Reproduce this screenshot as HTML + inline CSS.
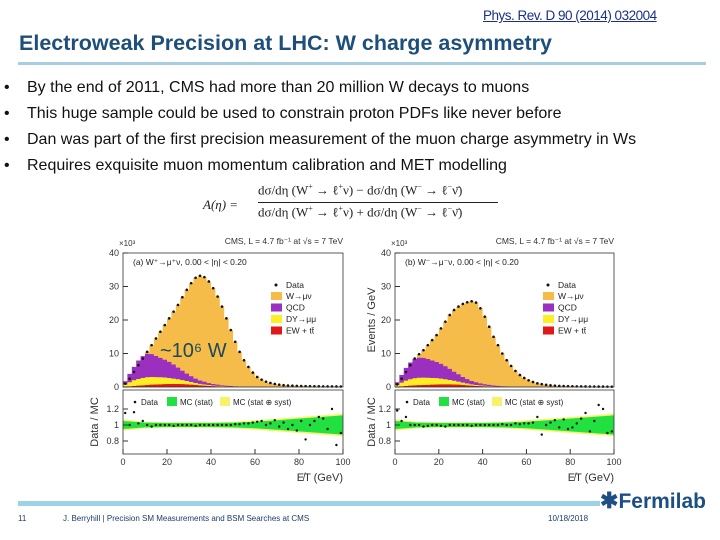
<!DOCTYPE html>
<html><head><meta charset="utf-8"><style>
body{margin:0;width:720px;height:540px;background:#fff;position:relative;overflow:hidden;font-family:"Liberation Sans",sans-serif}
.abs{position:absolute;white-space:nowrap}
.bul{left:4px;font-size:16px;color:#111}
.bul span{position:absolute;left:23px}
</style></head><body>
<div class="abs" style="left:483px;top:8px;font-size:13.5px;color:#1a2f8a;text-decoration:underline;letter-spacing:-0.5px">Phys. Rev. D 90 (2014) 032004</div>
<div class="abs" style="left:19px;top:31px;font-size:21.5px;font-weight:bold;color:#1d4f7a">Electroweak Precision at LHC: W charge asymmetry</div>
<div class="abs" style="left:18px;top:62px;width:688px;height:3px;background:#a9cde0"></div>
<div class="abs bul" style="top:79px">•<span>By the end of 2011, CMS had more than 20 million W decays to muons</span></div>
<div class="abs bul" style="top:105px">•<span>This huge sample could be used to constrain proton PDFs like never before</span></div>
<div class="abs bul" style="top:131px">•<span>Dan was part of the first precision measurement of the muon charge asymmetry in Ws</span></div>
<div class="abs bul" style="top:157px">•<span>Requires exquisite muon momentum calibration and MET modelling</span></div>
<div class="abs" style="left:203px;top:182px;font-family:'Liberation Serif',serif;font-size:13px;color:#222">
<div style="position:absolute;left:0;top:15px;font-style:italic">A(η) =</div>
<div style="position:absolute;left:55px;top:0">dσ/dη (W<sup style="font-size:8px">+</sup> → ℓ<sup style="font-size:8px">+</sup>ν) − dσ/dη (W<sup style="font-size:8px">−</sup> → ℓ<sup style="font-size:8px">−</sup>ν̄)</div>
<div style="position:absolute;left:55px;top:20px;width:240px;border-top:1px solid #222"></div>
<div style="position:absolute;left:55px;top:22px">dσ/dη (W<sup style="font-size:8px">+</sup> → ℓ<sup style="font-size:8px">+</sup>ν) + dσ/dη (W<sup style="font-size:8px">−</sup> → ℓ<sup style="font-size:8px">−</sup>ν̄)</div>
</div>
<svg id="plots" width="720" height="540" style="position:absolute;left:0;top:0" font-family="Liberation Sans, sans-serif"></svg>
<div class="abs" style="left:18px;top:501px;width:582px;height:5px;background:#9dd3e8"></div>
<div class="abs" style="left:600px;top:488px;font-size:21px;font-weight:bold;color:#1c4f83"><span style="font-size:22px">✱</span>Fermilab</div>
<div class="abs" style="left:18px;top:514px;font-size:8px;color:#1c3d6b">11</div>
<div class="abs" style="left:63px;top:514px;font-size:8px;color:#1c3d6b">J. Berryhill | Precision SM Measurements and BSM Searches at CMS</div>
<div class="abs" style="left:548px;top:514px;font-size:8px;color:#1c3d6b">10/18/2018</div>
<script>
const binCenters=[1,3,5,7,9,11,13,15,17,19,21,23,25,27,29,31,33,35,37,39,41,43,45,47,49,51,53,55,57,59,61,63,65,67,69,71,73,75,77,79,81,83,85,87,89,91,93,95,97,99];
const totalA=[1,2.5,4.5,6.5,8.5,10.5,12.5,14.5,16.5,18.5,20.5,22.5,24.5,26.8,29,31,32.6,33.2,32.8,31.5,29.5,27,24,20.5,17,13.5,10.5,8,6,4.3,3,2.2,1.6,1.2,0.9,0.7,0.55,0.45,0.38,0.32,0.28,0.26,0.24,0.22,0.2,0.19,0.18,0.17,0.16,0.15];
const qcdA=[1,2.5,4,5.5,6.5,7,6.8,6.3,5.8,5.3,4.8,4.2,3.5,2.8,2.2,1.7,1.3,1,0.8,0.6,0.45,0.35,0.25,0.2,0.15,0.1,0.08,0.06,0.05,0.04,0.03,0.02,0.02,0.02,0.01,0.01,0.01,0.01,0.01,0.01,0,0,0,0,0,0,0,0,0,0];
const dyA=[0.6,1.2,1.7,2,2.2,2.3,2.3,2.2,2.1,2,1.8,1.6,1.4,1.2,1,0.8,0.6,0.45,0.35,0.25,0.2,0.15,0.1,0.08,0.05,0.04,0.03,0.02,0.02,0.01,0,0,0,0,0,0,0,0,0,0,0,0,0,0,0,0,0,0,0,0];
const ewA=[0.1,0.2,0.3,0.4,0.5,0.6,0.7,0.75,0.8,0.85,0.9,0.9,0.9,0.85,0.8,0.7,0.6,0.5,0.4,0.3,0.25,0.2,0.15,0.1,0.08,0.06,0.04,0.03,0.02,0.01,0,0,0,0,0,0,0,0,0,0,0,0,0,0,0,0,0,0,0,0];
const totalB=[0.8,2.5,4.5,6.5,8.5,9.8,11,12.5,14,15.5,17.5,19.5,21.5,23,24,24.8,25.3,25.6,25.2,23.5,21,18,15,12.5,10,8,6.3,4.8,3.6,2.7,2,1.5,1.1,0.85,0.65,0.5,0.4,0.33,0.28,0.24,0.21,0.19,0.17,0.16,0.15,0.14,0.13,0.12,0.11,0.1];
const qcdB=[0.8,2.3,3.8,5,5.8,6,5.9,5.6,5.2,4.8,4.4,3.9,3.3,2.7,2.2,1.7,1.3,1,0.8,0.6,0.45,0.35,0.25,0.2,0.15,0.1,0.08,0.06,0.05,0.04,0.03,0.02,0.02,0.01,0.01,0,0,0,0,0,0,0,0,0,0,0,0,0,0,0];
const dyB=[0.5,1.1,1.6,1.9,2.1,2.2,2.2,2.1,2,1.9,1.7,1.5,1.3,1.1,0.9,0.7,0.55,0.4,0.3,0.22,0.16,0.12,0.08,0.06,0.04,0.03,0.02,0.01,0,0,0,0,0,0,0,0,0,0,0,0,0,0,0,0,0,0,0,0,0,0];
const ewB=[0.1,0.2,0.3,0.4,0.5,0.55,0.6,0.65,0.7,0.75,0.8,0.8,0.8,0.75,0.7,0.6,0.5,0.4,0.3,0.25,0.2,0.15,0.1,0.08,0.05,0.04,0.03,0.02,0.01,0,0,0,0,0,0,0,0,0,0,0,0,0,0,0,0,0,0,0,0,0];
const ratioA=[1.15,1.0,1.16,1.02,1.05,1.0,0.98,1.0,1.0,1.0,1.0,0.99,1.0,1.0,1.0,1.0,0.99,1.0,1.0,1.0,1.0,1.0,1.0,1.0,1.0,1.01,1.01,1.02,1.02,1.03,1.04,1.05,1.0,1.02,1.06,0.98,1.03,0.95,1.0,0.93,1.05,0.82,1.0,1.05,1.1,1.08,0.95,1.2,0.75,0.9];
const ratioB=[1.18,1.05,1.1,1.0,1.0,1.0,0.98,0.99,1.0,1.0,0.99,0.98,1.0,1.0,1.0,1.0,1.0,0.99,1.0,1.0,1.0,1.0,1.0,1.0,1.01,1.0,1.0,1.02,1.01,1.02,1.02,1.03,1.1,0.88,1.0,1.03,1.06,0.97,1.07,0.95,0.97,1.02,1.08,1.15,0.92,1.05,1.25,1.2,0.9,0.92];
const bandX=[0,10,20,30,40,50,60,70,80,90,100];
const statBand=[0.05,0.03,0.025,0.025,0.025,0.03,0.04,0.06,0.08,0.1,0.12];
const systBand=[0.07,0.04,0.035,0.035,0.035,0.04,0.06,0.08,0.1,0.12,0.14];
const yTicks=[0,10,20,30,40];
const rTicks=[0.8,1,1.2];
const xTicks=[0,20,40,60,80,100];

const S=document.getElementById('plots');const NS='http://www.w3.org/2000/svg';
function el(t,a,txt){const e=document.createElementNS(NS,t);for(const k in a)e.setAttribute(k,a[k]);if(txt!==undefined)e.textContent=txt;S.appendChild(e);return e;}
function plot(x0,x1,tot,qcd,dy,ew,ratio,label,showYLabel,pfx){
 const X=v=>x0+v*(x1-x0)/100, Y=v=>387-v*3.35, R=r=>425-(r-1)*80;
 function stack(vals,color,name){let d='M'+X(0)+','+Y(0);binCenters.forEach((c,i)=>{d+=' L'+X(c-1)+','+Y(vals[i])+' L'+X(c+1)+','+Y(vals[i]);});d+=' L'+X(100)+','+Y(0)+'Z';
  const p=el('path',{d:d,fill:color});}
 stack(tot,'#f5bc4a','w-signal');
 stack(qcd.map((q,i)=>q+dy[i]+ew[i]),'#9b2fc0','qcd');
 stack(dy.map((q,i)=>q+ew[i]),'#ffee22','dy');
 stack(ew,'#e01818','ew-ttbar');
 binCenters.forEach((c,i)=>{const d=el('circle',{cx:X(c),cy:Y(tot[i]),r:1.3,fill:'#111'});});
 el('rect',{x:x0,y:253,width:x1-x0,height:134,fill:'none',stroke:'#333','stroke-width':0.8});
 yTicks.forEach(t=>{el('line',{x1:x0,x2:x0+5,y1:Y(t),y2:Y(t),stroke:'#333'});el('text',{x:x0-4,y:Y(t)+3,'font-size':9,'text-anchor':'end',fill:'#333'},t);});
 el('text',{x:x0-4,y:246,'font-size':8,fill:'#333'},'×10³');
 el('text',{x:x1,y:244,'font-size':8.5,'text-anchor':'end',fill:'#333'},'CMS,  L = 4.7 fb⁻¹ at √s = 7 TeV');
 el('text',{x:x0+10,y:265,'font-size':8.5,fill:'#222'},label);
 const lx=x0+148;const items=[['#f5bc4a','W→μν'],['#9b2fc0','QCD'],['#ffee22','DY→μμ'],['#e01818','EW + tt̄']];
 el('circle',{cx:lx+5,cy:285,r:1.5,fill:'#111'});el('text',{x:lx+15,y:288,'font-size':8.5,fill:'#222'},'Data');
 items.forEach((it,i)=>{el('rect',{x:lx,y:292+i*11.5,width:11,height:8,fill:it[0]});el('text',{x:lx+15,y:299+i*11.5,'font-size':8.5,fill:'#222'},it[1]);});
 let top='',bot='';bandX.forEach((b,i)=>{top+=(i?' L':'M')+X(b)+','+R(1+systBand[i]);});for(let i=bandX.length-1;i>=0;i--)top+=' L'+X(bandX[i])+','+R(1-systBand[i]);
 el('path',{d:top+'Z',fill:'#f7f26a'});
 bandX.forEach((b,i)=>{bot+=(i?' L':'M')+X(b)+','+R(1+statBand[i]);});for(let i=bandX.length-1;i>=0;i--)bot+=' L'+X(bandX[i])+','+R(1-statBand[i]);
 el('path',{d:bot+'Z',fill:'#22e040'});
 binCenters.forEach((c,i)=>{const d=el('circle',{cx:X(c),cy:R(ratio[i]),r:1.2,fill:'#111'});});
 el('rect',{x:x0,y:390,width:x1-x0,height:64,fill:'none',stroke:'#333','stroke-width':0.8});
 rTicks.forEach(t=>{el('line',{x1:x0,x2:x0+5,y1:R(t),y2:R(t),stroke:'#333'});el('text',{x:x0-4,y:R(t)+3,'font-size':9,'text-anchor':'end',fill:'#333'},t);});
 xTicks.forEach(t=>{el('line',{x1:X(t),x2:X(t),y1:454,y2:449,stroke:'#333'});el('text',{x:X(t),y:465,'font-size':9,'text-anchor':'middle',fill:'#333'},t);});
 el('circle',{cx:x0+12,cy:402,r:1.3,fill:'#111'});el('text',{x:x0+18,y:405,'font-size':8,fill:'#222'},'Data');
 el('rect',{x:x0+44,y:397,width:10,height:9,fill:'#22e040'});el('text',{x:x0+57,y:405,'font-size':8,fill:'#222'},'MC (stat)');
 el('rect',{x:x0+97,y:397,width:10,height:9,fill:'#f7f26a'});el('text',{x:x0+110,y:405,'font-size':8,fill:'#222'},'MC (stat ⊕ syst)');
 el('text',{x:x1,y:481,'font-size':11,'text-anchor':'end',fill:'#333'},'E̸T (GeV)');
 if(showYLabel){
  el('text',{x:0,y:0,'font-size':11,fill:'#333',transform:`translate(${x0-20},320) rotate(-90)`,'text-anchor':'middle'},'Events / GeV');
  el('text',{x:0,y:0,'font-size':11,fill:'#333',transform:`translate(${x0-20},422) rotate(-90)`,'text-anchor':'middle'},'Data / MC');
 }
}
plot(123,343,totalA,qcdA,dyA,ewA,ratioA,'(a)  W⁺→μ⁺ν,  0.00 < |η| < 0.20',false,'plus-');
plot(395,614,totalB,qcdB,dyB,ewB,ratioB,'(b)  W⁻→μ⁻ν,  0.00 < |η| < 0.20',true,'minus-');
el('text',{x:0,y:0,'font-size':11,fill:'#333',transform:'translate(98,422) rotate(-90)','text-anchor':'middle'},'Data / MC');
const ann=el('text',{x:160,y:357,'font-size':20,fill:'#1b4a5a'},'~10⁶ W');


</script>
</body></html>
